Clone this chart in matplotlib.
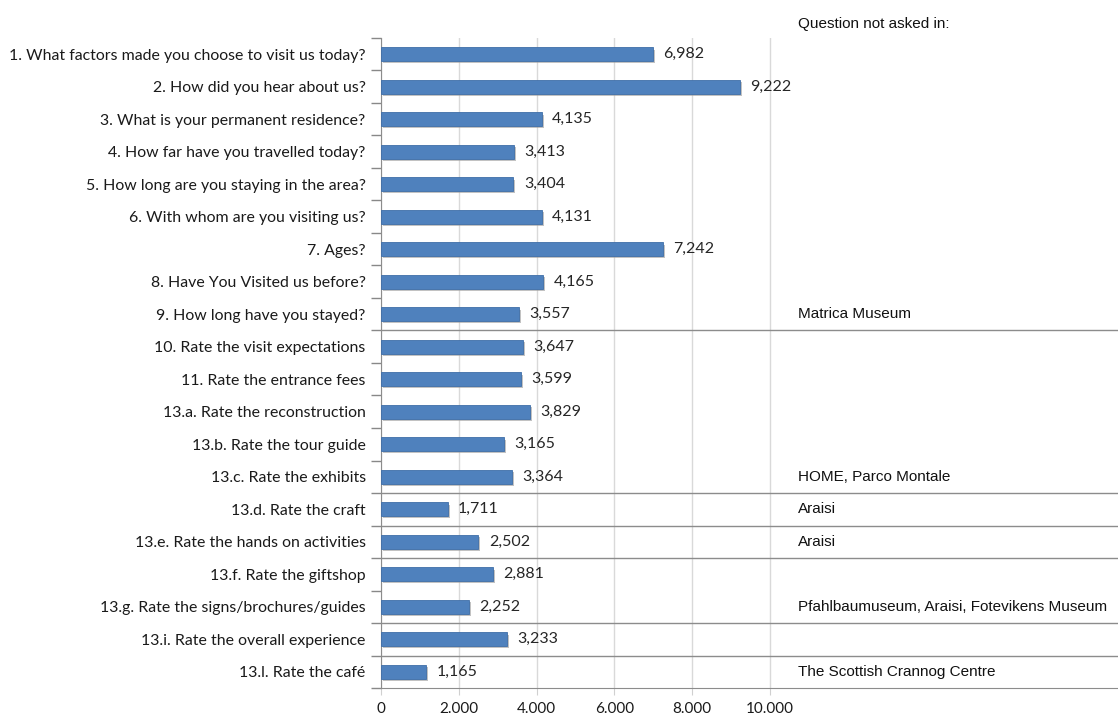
import matplotlib.pyplot as plt
import matplotlib.patheffects as pe

# Questions (top to bottom) and response counts
questions = [
    '1. What factors made you choose to visit us today?',
    '2. How did you hear about us?',
    '3. What is your permanent residence?',
    '4. How far have you travelled today?',
    '5. How long are you staying in the area?',
    '6. With whom are you visiting us?',
    '7. Ages?',
    '8. Have You Visited us before?',
    '9. How long have you stayed?',
    '10. Rate the visit expectations',
    '11. Rate the entrance fees',
    '13.a. Rate the reconstruction',
    '13.b. Rate the tour guide',
    '13.c. Rate the exhibits',
    '13.d. Rate the craft',
    '13.e. Rate the hands on activities',
    '13.f. Rate the giftshop',
    '13.g. Rate the signs/brochures/guides',
    '13.i. Rate the overall experience',
    '13.l. Rate the café',
]
responses = [6982, 9222, 4135, 3413, 3404, 4131, 7242, 4165, 3557, 3647,
             3599, 3829, 3165, 3364, 1711, 2502, 2881, 2252, 3233, 1165]

# museums where the question was not asked ('' = asked everywhere)
not_asked = ['', '', '', '', '', '', '', '', 'Matrica Museum',
             '', '', '', '', 'HOME, Parco Montale', 'Araisi', 'Araisi',
             '', 'Pfahlbaumuseum, Araisi, Fotevikens Museum', '',
             'The Scottish Crannog Centre']
# rows after which a separator line is drawn
separators_after = [8, 13, 14, 15, 17, 18]

x_ticks = [0, 2000, 4000, 6000, 8000, 10000]
x_tick_labels = ['0', '2.000', '4.000', '6.000', '8.000', '10.000']

label_font = 'Lato'
note_font = 'Liberation Sans'

fig = plt.figure(figsize=(11.18, 7.17), dpi=100)
ax = fig.add_axes([381 / 1118, 29 / 717, 737 / 1118, 650 / 717])

rows = list(range(len(questions)))
bars = ax.barh(rows, responses, height=0.42, color='#4f81bd',
               edgecolor='#3f6ea8', linewidth=0.6, zorder=3)
for b in bars:
    b.set_path_effects([pe.SimplePatchShadow(offset=(1.5, -1.5),
                                             shadow_rgbFace='#9a9a9a', alpha=0.6),
                        pe.Normal()])

# value labels
for r, v in zip(rows, responses):
    ax.annotate(f'{v:,}', xy=(v, r), xytext=(7.5, 0), textcoords='offset points',
                ha='left', va='center', fontsize=11.5, family=label_font,
                color='#262626', zorder=4)

ax.set_xlim(0, 18950)
ax.set_ylim(len(questions) - 0.5, -0.5)

ax.set_yticks(rows)
ax.set_yticklabels(questions, fontsize=11.4, family=label_font, color='#1a1a1a')
ax.set_yticks([r - 0.5 for r in rows] + [len(rows) - 0.5], minor=True)
ax.tick_params(axis='y', which='major', length=0, pad=11)
ax.tick_params(axis='y', which='minor', length=7, color='#888888', width=1)

ax.set_xticks(x_ticks)
ax.set_xticklabels(x_tick_labels, fontsize=11, family=label_font, color='#1a1a1a')
ax.tick_params(axis='x', length=5, color='#d0d0d0', pad=5)
ax.grid(axis='x', color='#d9d9d9', linewidth=1, zorder=0)

for s in ['top', 'right']:
    ax.spines[s].set_visible(False)
ax.spines['left'].set_color('#8c8c8c')
ax.spines['bottom'].set_color('#8c8c8c')

# separator lines and notes on the right
for r in separators_after:
    ax.axhline(r + 0.5, color='#8c8c8c', linewidth=1, zorder=2)

for r, name in zip(rows, not_asked):
    if name:
        ax.text(10720, r, name, ha='left', va='center', fontsize=11,
                family=note_font, color='#111111')

ax.text(10720, -0.93, 'Question not asked in:', ha='left', va='center',
        fontsize=11, family=note_font, color='#111111', clip_on=False)

fig.savefig('out.png', dpi=100)
